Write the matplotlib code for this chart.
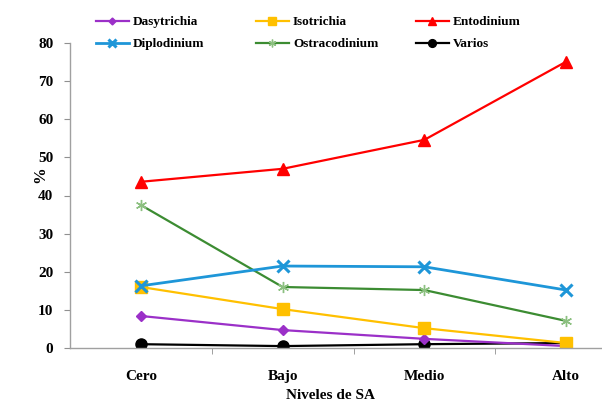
import numpy as np
import matplotlib.pyplot as plt

niveles = ["Cero", "Bajo", "Medio", "Alto"]

dasytrichia = [8.4, 4.7, 2.4, 0.5]
isotrichia = [16.0, 10.2, 5.2, 1.3]
entodinium = [43.6, 47.0, 54.6, 75.1]
diplodinium = [16.3, 21.5, 21.3, 15.2]
ostracodinium = [37.5, 16.0, 15.2, 7.1]
varios = [1.0, 0.5, 1.0, 1.3]

plt.rcParams['font.family'] = ['Liberation Serif', 'DejaVu Serif']
plt.rcParams['font.weight'] = 'bold'

fig = plt.figure(figsize=(6.02, 4.05), dpi=100)
W, H = 602, 405
ax = fig.add_axes([70 / W, 1 - 348 / H, (637 - 70) / W, (348 - 43) / H])

x = np.arange(len(niveles))
series = [
    ("Dasytrichia", dasytrichia, "#9B30C8", "D", 5, 1.6),
    ("Diplodinium", diplodinium, "#1E96D8", "x", 8, 2.0),
    ("Isotrichia", isotrichia, "#FFC000", "s", 8, 1.6),
    ("Ostracodinium", ostracodinium, "#3C8C32", (6, 2, 0), 8, 1.6),
    ("Entodinium", entodinium, "#FF0000", "^", 8, 1.6),
    ("Varios", varios, "#000000", "o", 8, 1.6),
]
order = [5, 0, 2, 3, 1, 4]
handles = {}
for i in order:
    name, vals, col, mk, ms, lw = series[i]
    mew = 2.2 if mk == "x" else 1
    mec = col
    if name == "Ostracodinium":
        mec = "#8CC080"
        mew = 1.0
    (h,) = ax.plot(x, vals, color=col, marker=mk, markersize=ms, lw=lw,
                   markeredgewidth=mew, markeredgecolor=mec, label=name)
    handles[name] = h

ax.set_xlim(-0.5, 3.5)
ax.set_ylim(0, 80)
ax.set_yticks(np.arange(0, 81, 10))
ax.set_xticks(x)
ax.set_xticklabels(niveles, fontsize=11, fontweight='bold')
ax.set_xticks(np.arange(0.5, 3.6, 1), minor=True)
ax.tick_params(axis='x', which='major', length=0, pad=16)
ax.tick_params(axis='x', which='minor', length=4, color='#909090', direction='out')
ax.tick_params(axis='y', length=4, color='#909090', labelsize=11, pad=8)
for lab in ax.get_yticklabels():
    lab.set_fontweight('bold')

for s in ['top', 'right']:
    ax.spines[s].set_visible(False)
for s in ['left', 'bottom']:
    ax.spines[s].set_color('#A0A0A0')
    ax.spines[s].set_linewidth(1.0)

ax.set_ylabel("%", fontsize=12, fontweight='bold')
ax.yaxis.set_label_coords(-22 / 567, (348 - 175) / 305)
ax.set_xlabel("Niveles de SA", fontsize=11, fontweight='bold')
ax.xaxis.set_label_coords((330 - 70) / 567, -(389 - 348) / 305)

columns = [["Dasytrichia", "Diplodinium"],
           ["Isotrichia", "Ostracodinium"],
           ["Entodinium", "Varios"]]
col_x = [96, 256, 416]
for cx, names in zip(col_x, columns):
    leg = fig.legend([handles[n] for n in names], names, frameon=False,
                     loc='upper left', bbox_to_anchor=(cx / W, 1 - 16 / H),
                     prop={'size': 9.5, 'weight': 'bold'}, handlelength=2.5,
                     labelspacing=0.75, handletextpad=0.3,
                     borderaxespad=0, borderpad=0, markerscale=0.7)

fig.savefig("out.png", dpi=100)
